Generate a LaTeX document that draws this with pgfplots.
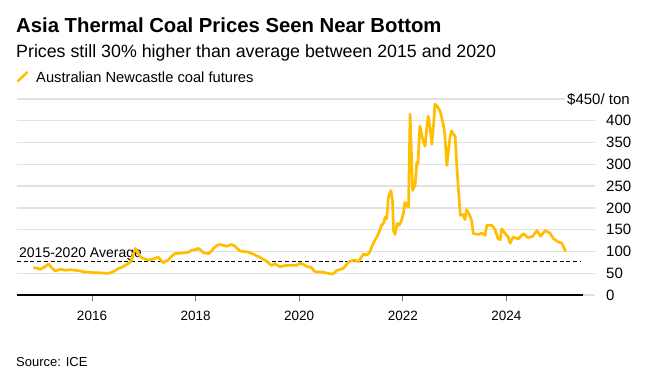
\documentclass[border=0pt]{standalone}
\usepackage{fontspec}
\setmainfont{Liberation Sans}
\usepackage{pgfplots}
\pgfplotsset{compat=1.18}
\definecolor{coal}{RGB}{255,190,0}
\definecolor{gridc}{RGB}{225,225,225}
\begin{document}
\begin{tikzpicture}[x=1pt,y=1pt]
\path[use as bounding box] (0,0) rectangle (652,380);
\node[anchor=base west, inner sep=0pt, font=\fontsize{20.3}{20}\selectfont\bfseries] at (16,347.3) {Asia Thermal Coal Prices Seen Near Bottom};
\node[anchor=base west, inner sep=0pt, font=\fontsize{17.8}{17.5}\selectfont] at (16,322.7) {Prices still 30\% higher than average between 2015 and 2020};
\draw[coal, line width=2.5pt] (17.5,298.5) -- (27.5,308);
\node[anchor=base west, inner sep=0pt, font=\fontsize{14.7}{14.5}\selectfont] at (36,297.7) {Australian Newcastle coal futures};
\node[anchor=base west, inner sep=0pt, font=\fontsize{13}{13}\selectfont] at (16,14) {Source: ICE};
\begin{axis}[
  at={(17pt,85pt)}, anchor=south west,
  scale only axis, width=578pt, height=196pt,
  xmin=2014.552, xmax=2025.71, ymin=0, ymax=450,
  clip=false,
  axis line style={draw=none},
  ytick={0,50,100,150,200,250,300,350,400,450},
  yticklabels={0,50,100,150,200,250,300,350,400,{}},
  yticklabel pos=right,
  ymajorgrids, grid style={gridc, line width=1.3pt},
  xtick={2016,2018,2020,2022,2024},
  xticklabels={2016,2018,2020,2022,2024},
  xtick pos=bottom,
  ytick style={draw=none},
  xtick style={draw=black!55, line width=1pt},
  major tick length=6pt, tick align=outside,
  yticklabel style={anchor=west, inner sep=0pt, xshift=5pt, font=\fontsize{15}{15}\selectfont},
  xticklabel style={inner sep=0pt, yshift=-9.5pt, font=\fontsize{13.5}{13.5}\selectfont},
]
\node[anchor=base west, inner sep=0.5pt, fill=white, font=\fontsize{14}{14}\selectfont] at (axis cs:2014.58,85) {2015-2020 Average};
\node[anchor=west, inner xsep=2pt, inner ysep=1pt, fill=white, font=\fontsize{15}{15}\selectfont] at (axis cs:2025.13,450) {\$450/ ton};
\addplot[black, line width=1.2pt] coordinates {(2014.552,0) (2025.48,0)};
\addplot[black, line width=1.2pt, dash pattern=on 4pt off 2.7pt] coordinates {(2014.552,76) (2025.42,76)};
\addplot[coal, line width=2.7pt, line join=round] table {
2014.87 63
2014.95 61
2015.00 59
2015.08 64
2015.16 71
2015.22 63
2015.29 55
2015.38 59
2015.48 57
2015.58 58
2015.67 57
2015.78 55
2015.86 53
2015.96 52
2016.06 51
2016.15 51
2016.25 50
2016.32 50
2016.38 52
2016.45 56
2016.51 61
2016.58 64
2016.64 68
2016.70 72
2016.76 78
2016.80 95
2016.84 107
2016.88 98
2016.93 88
2016.99 84
2017.09 80
2017.16 82
2017.22 84
2017.28 87
2017.33 80
2017.38 74
2017.43 78
2017.47 80
2017.53 88
2017.60 95
2017.70 96
2017.80 97
2017.86 98
2017.92 103
2018.00 104
2018.05 107
2018.10 103
2018.15 97
2018.25 95
2018.30 100
2018.36 109
2018.42 114
2018.47 116
2018.53 114
2018.60 112
2018.65 114
2018.70 116
2018.76 112
2018.81 106
2018.86 101
2018.93 100
2018.99 99
2019.05 97
2019.11 94
2019.18 90
2019.24 87
2019.29 83
2019.34 80
2019.40 74
2019.47 68
2019.53 72
2019.58 68
2019.63 65
2019.70 67
2019.76 68
2019.85 68
2019.95 68
2020.02 73
2020.08 70
2020.14 66
2020.20 64
2020.24 63
2020.28 56
2020.32 53
2020.40 53
2020.46 52
2020.55 50
2020.63 48
2020.68 51
2020.72 56
2020.80 59
2020.85 61
2020.90 68
2020.95 76
2021.02 79
2021.08 80
2021.14 76
2021.19 85
2021.24 94
2021.30 92
2021.35 96
2021.40 110
2021.45 123
2021.53 141
2021.59 160
2021.63 165
2021.66 179
2021.69 175
2021.72 224
2021.77 240
2021.80 217
2021.82 148
2021.85 139
2021.89 164
2021.93 160
2021.97 170
2022.01 187
2022.04 213
2022.08 205
2022.11 202
2022.14 415
2022.19 240
2022.24 255
2022.27 304
2022.29 300
2022.33 388
2022.37 365
2022.40 350
2022.43 342
2022.46 380
2022.49 411
2022.53 380
2022.56 346
2022.60 400
2022.62 438
2022.66 434
2022.72 422
2022.78 392
2022.81 369
2022.85 297
2022.88 330
2022.91 361
2022.94 377
2022.97 370
2023.01 365
2023.04 300
2023.07 247
2023.11 183
2023.16 185
2023.20 173
2023.23 196
2023.29 183
2023.33 170
2023.36 141
2023.46 139
2023.53 142
2023.59 137
2023.62 160
2023.72 160
2023.78 150
2023.84 129
2023.88 127
2023.91 152
2023.97 142
2024.03 134
2024.07 119
2024.13 133
2024.23 129
2024.33 141
2024.41 132
2024.50 134
2024.59 148
2024.66 135
2024.75 148
2024.84 142
2024.91 129
2025.00 122
2025.07 119
2025.13 103
2025.15 101
};
\end{axis}
\end{tikzpicture}
\end{document}
